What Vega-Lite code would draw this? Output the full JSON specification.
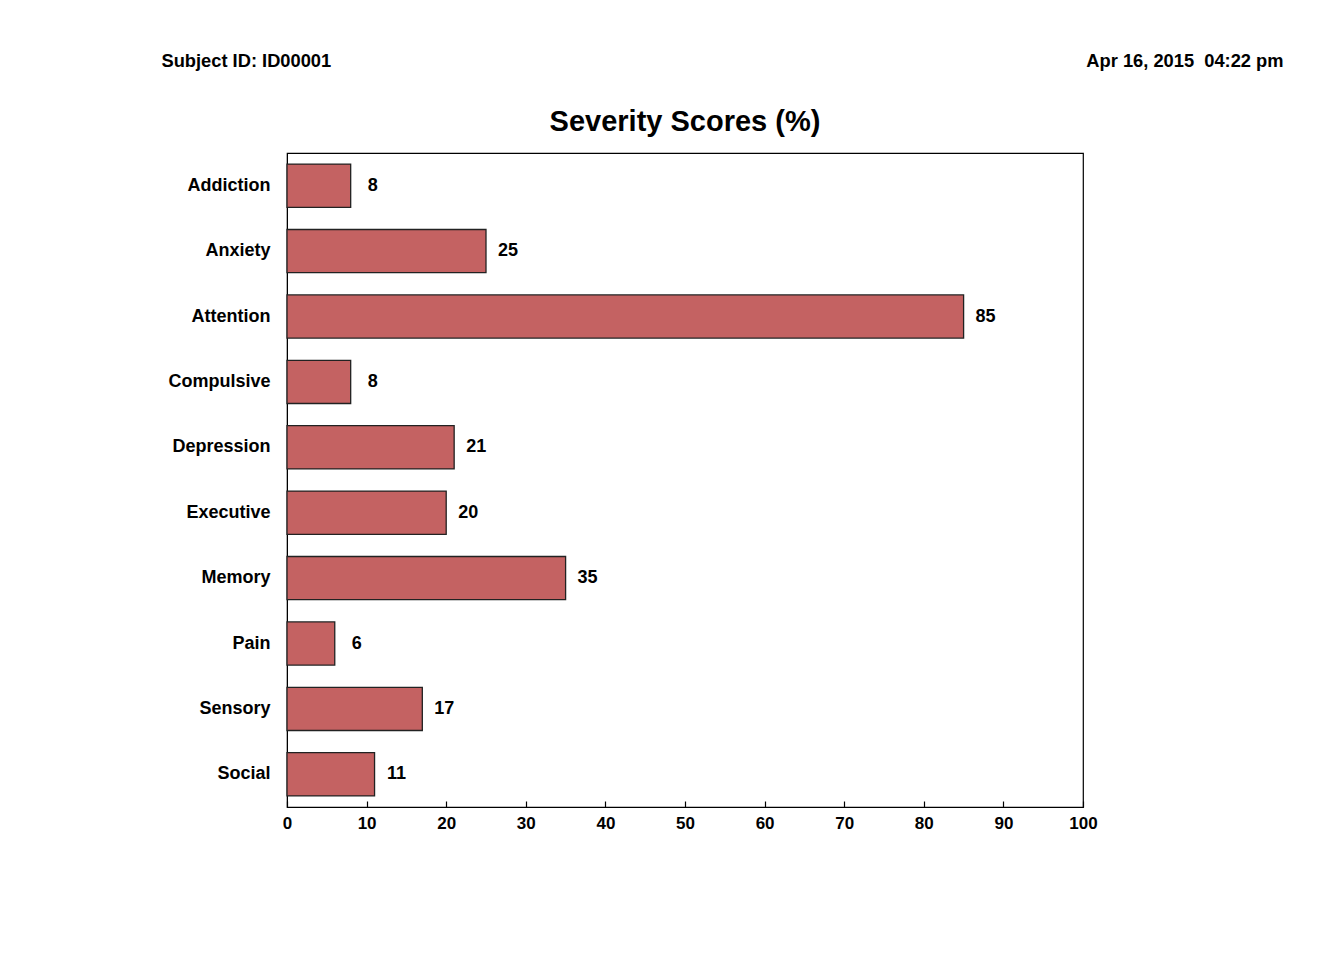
{
  "$schema": "https://vega.github.io/schema/vega-lite/v6.json",
  "autosize": {"type": "none"},
  "width": 796,
  "height": 654,
  "padding": {"left": 287, "top": 153, "right": 249, "bottom": 163},
  "background": "white",
  "title": {
    "text": "Severity Scores (%)",
    "anchor": "middle",
    "frame": "group",
    "font": "Liberation Sans",
    "fontSize": 29,
    "fontWeight": "bold",
    "color": "black",
    "offset": -86
  },
  "config": {
    "view": {"stroke": "black", "strokeWidth": 1.2},
    "font": "Liberation Sans"
  },
  "data": {
    "values": [
      {"category": "Addiction", "score": 8},
      {"category": "Anxiety", "score": 25},
      {"category": "Attention", "score": 85},
      {"category": "Compulsive", "score": 8},
      {"category": "Depression", "score": 21},
      {"category": "Executive", "score": 20},
      {"category": "Memory", "score": 35},
      {"category": "Pain", "score": 6},
      {"category": "Sensory", "score": 17},
      {"category": "Social", "score": 11}
    ]
  },
  "encoding": {
    "y": {
      "field": "category",
      "type": "nominal",
      "sort": null,
      "scale": {"paddingInner": 0.34, "paddingOuter": 0.17},
      "axis": {
        "title": "Subject ID: ID00001",
        "titleAngle": 0,
        "titleAlign": "left",
        "titleBaseline": "alphabetic",
        "titleAnchor": null,
        "titleX": -126,
        "titleY": -87,
        "titleFont": "Liberation Sans",
        "titleFontSize": 18.3,
        "titleFontWeight": "bold",
        "titleColor": "black",
        "ticks": false,
        "domainColor": "black",
        "labelFont": "Liberation Sans",
        "labelFontSize": 18,
        "labelFontWeight": "bold",
        "labelColor": "black",
        "labelPadding": 17
      }
    },
    "x": {
      "field": "score",
      "type": "quantitative",
      "scale": {"domain": [0, 100], "nice": false},
      "axis": {
        "values": [0, 10, 20, 30, 40, 50, 60, 70, 80, 90, 100],
        "grid": false,
        "tickSize": -6,
        "tickWidth": 1.2,
        "tickColor": "black",
        "domainColor": "black",
        "labelFont": "Liberation Sans",
        "labelFontSize": 17,
        "labelFontWeight": "bold",
        "labelColor": "black",
        "labelPadding": 14,
        "labelFlush": false,
        "title": "Apr 16, 2015\u00a0 04:22 pm",
        "titleAnchor": null,
        "titleAlign": "right",
        "titleBaseline": "alphabetic",
        "titleX": 996,
        "titleY": -741,
        "titleFont": "Liberation Sans",
        "titleFontSize": 18.3,
        "titleFontWeight": "bold",
        "titleColor": "black"
      }
    }
  },
  "layer": [
    {
      "mark": {"type": "bar", "color": "#C46262", "stroke": "#222222", "strokeWidth": 1.3}
    },
    {
      "mark": {"type": "text", "align": "center", "baseline": "middle", "dx": 22, "font": "Liberation Sans", "fontSize": 18, "fontWeight": "bold", "color": "black"},
      "encoding": {"text": {"field": "score", "type": "quantitative"}}
    }
  ]
}
